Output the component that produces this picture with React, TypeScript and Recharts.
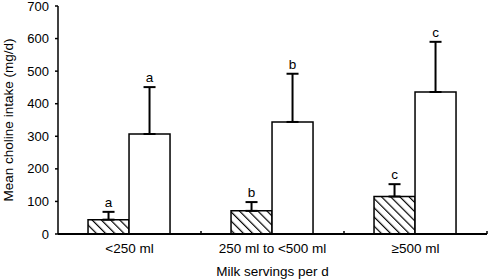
import { BarChart, Bar, XAxis, YAxis, ErrorBar, LabelList } from 'recharts'

const categories = ['<250 ml', '250 ml to <500 ml', '≥500 ml']
const hatchedMeans = [44, 71, 115]
const hatchedErrors = [24, 27, 38]
const whiteMeans = [307, 344, 436]
const whiteErrors = [144, 148, 154]
const letters = ['a', 'b', 'c']
const yTicks = [0, 100, 200, 300, 400, 500, 600, 700]

const data = categories.map((c, i) => ({
  name: c,
  hatched: hatchedMeans[i],
  hatchedErr: [0, hatchedErrors[i]],
  white: whiteMeans[i],
  whiteErr: [0, whiteErrors[i]],
}))

const FONT = '"Liberation Sans", Arial, sans-serif'

// letter sits a few px above the top of the error bar
const letterLabel = (errs: number[], means: number[]) => (p: any) => {
  const { x, y, width, height, index } = p
  const k = height / means[index]
  const top = y - errs[index] * k
  return (
    <text x={x + width / 2} y={top - 5} textAnchor="middle" fontSize={13.5} fontFamily={FONT} fill="#000">
      {letters[index]}
    </text>
  )
}

const XTick = (p: any) => {
  const { x, y, payload, width, visibleTicksCount } = p
  const band = width / visibleTicksCount
  const axisY = y - 9
  return (
    <g>
      <line x1={x + band / 2} x2={x + band / 2} y1={axisY - 3} y2={axisY} stroke="#000" strokeWidth={1.5} />
      <text x={x} y={y} dy="0.71em" textAnchor="middle" fontSize={13.5} fontFamily={FONT} fill="#000">
        {payload.value}
      </text>
    </g>
  )
}

const YTitle = (p: any) => {
  const vb = p.viewBox
  const cx = 8
  const cy = vb.y + vb.height / 2
  return (
    <text x={cx} y={cy} transform={`rotate(-90 ${cx} ${cy})`} textAnchor="middle" dominantBaseline="central"
      fontSize={13.5} fontFamily={FONT} fill="#000">
      Mean choline intake (mg/d)
    </text>
  )
}

export default function App() {
  return (
    <div style={{ position: 'absolute', left: 0, top: 0, background: '#fff' }}>
      <BarChart width={488} height={279} data={data} margin={{ top: 6, right: 1, bottom: 0, left: 0 }}
        barCategoryGap="21%" barGap={0}>
        <defs>
          <pattern id="hatch" width="6.5" height="6.5" patternUnits="userSpaceOnUse" patternTransform="rotate(-45)">
            <rect width="6.5" height="6.5" fill="#fff" />
            <line x1="0" y1="0" x2="0" y2="6.5" stroke="#000" strokeWidth={2.4} />
          </pattern>
        </defs>
        <XAxis dataKey="name" height={45} tickSize={0} tickMargin={9} interval={0}
          axisLine={{ stroke: '#000', strokeWidth: 2 }} tick={<XTick />}
          label={{ value: 'Milk servings per d', position: 'insideBottom', offset: 3, fontSize: 13.5, fontFamily: FONT, fill: '#000' }} />
        <YAxis domain={[0, 700]} ticks={yTicks} width={58} tickSize={3} tickMargin={6} interval={0}
          axisLine={{ stroke: '#000', strokeWidth: 1.5 }} tickLine={{ stroke: '#000', strokeWidth: 1.5 }}
          tick={{ fontSize: 13, fontFamily: FONT, fill: '#000' }}
          label={<YTitle />} />
        <Bar dataKey="hatched" fill="url(#hatch)" stroke="#000" strokeWidth={1.5} isAnimationActive={false}>
          <ErrorBar dataKey="hatchedErr" direction="y" width={6} stroke="#000" strokeWidth={2} isAnimationActive={false} />
          <LabelList dataKey="hatched" content={letterLabel(hatchedErrors, hatchedMeans)} />
        </Bar>
        <Bar dataKey="white" fill="#fff" stroke="#000" strokeWidth={1.5} isAnimationActive={false}>
          <ErrorBar dataKey="whiteErr" direction="y" width={6} stroke="#000" strokeWidth={2} isAnimationActive={false} />
          <LabelList dataKey="white" content={letterLabel(whiteErrors, whiteMeans)} />
        </Bar>
      </BarChart>
    </div>
  )
}
